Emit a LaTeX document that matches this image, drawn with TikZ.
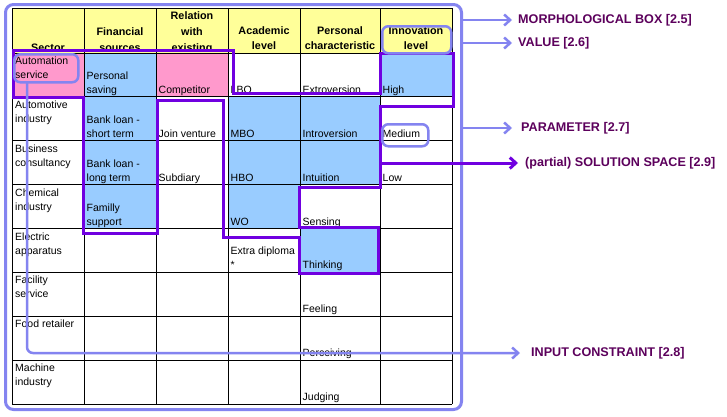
\documentclass[tikz,border=0pt]{standalone}
\usepackage{fontspec}
\setmainfont{Liberation Sans}
\usetikzlibrary{arrows.meta}
\definecolor{hdr}{HTML}{FFFF99}
\definecolor{pinkc}{HTML}{FF99CC}
\definecolor{bluec}{HTML}{99CCFF}
\definecolor{lav}{HTML}{8484F0}
\definecolor{purp}{HTML}{7000E0}
\definecolor{labc}{HTML}{5C005C}
\begin{document}
\begin{tikzpicture}[x=1pt,y=-1pt,
  cell/.style={anchor=base west,inner sep=0pt,font=\fontsize{10.5}{12}\selectfont},
  head/.style={anchor=base,inner sep=0pt,font=\fontsize{10.8}{13}\selectfont\bfseries},
  lab/.style={anchor=west,inner sep=0pt,text=labc,font=\fontsize{12.6}{14}\selectfont\bfseries},
  lavbox/.style={draw=lav,line width=2.5pt,rounded corners=6pt,inner sep=0pt},
  lavarrow/.style={draw=lav,line width=2.5pt,-{Straight Barb[length=6pt,width=11pt]}},
  purparrow/.style={draw=purp,line width=3pt,-{Straight Barb[length=6pt,width=11pt]}},
  solution/.style={draw=purp,line width=3pt,line join=miter}]
\useasboundingbox (0,0) rectangle (727,416);
\fill[white] (0,0) rectangle (727,416);
% fills
\fill[hdr] (12,8) rectangle (452,53);
\fill[pinkc] (12,53) rectangle (84,96.9);
\fill[pinkc] (156,53) rectangle (228,96.9);
\fill[bluec] (84,53) rectangle (156,228.5);
\fill[bluec] (228,96.9) rectangle (300,228.5);
\fill[bluec] (300,96.9) rectangle (380,184.6);
\fill[bluec] (300,228.5) rectangle (380,272.4);
\fill[bluec] (380,53) rectangle (452,96.9);
% grid
\foreach \xx in {12,84,156,228,300,380,452} \draw[black,line width=1pt] (\xx,8) -- (\xx,404);
\draw[black,line width=1pt] (12,8) -- (452,8);
\foreach \k in {0,...,8} \draw[black,line width=1pt] (12,53+43.875*\k) -- (452,53+43.875*\k);
% header
\begin{scope}
\clip (12,8) rectangle (228,49);
\node[head] (h1) at (48,51) {Sector};
\node[head] (h2b) at (120,51) {sources};
\node[head] (h3c) at (192,51) {existing};
\end{scope}
\node[head] (h2a) at (120,35) {Financial};
\node[head] (h3a) at (192,19.5) {Relation};
\node[head] (h3b) at (192,35) {with};
\node[head] (h4a) at (264,34.5) {Academic};
\node[head] (h4b) at (264,49) {level};
\node[head] (h5a) at (340,34.5) {Personal};
\node[head] (h5b) at (340,49) {characteristic};
\node[head] (h6a) at (416,34.5) {Innovation};
\node[head] (h6b) at (416,49) {level};
% sector column
\node[cell] (s1a) at (15,64.5) {Automation};
\node[cell] (s1b) at (15,78.5) {service};
\node[cell] (s2a) at (15,108.4) {Automotive};
\node[cell] (s2b) at (15,122.4) {industry};
\node[cell] (s3a) at (15,152.25) {Business};
\node[cell] (s3b) at (15,166.25) {consultancy};
\node[cell] (s4a) at (15,196.1) {Chemical};
\node[cell] (s4b) at (15,210.1) {industry};
\node[cell] (s5a) at (15,240) {Electric};
\node[cell] (s5b) at (15,254) {apparatus};
\node[cell] (s6a) at (15,283.9) {Facility};
\node[cell] (s6b) at (15,297.9) {service};
\node[cell] (s7a) at (15,327.75) {Food retailer};
\node[cell] (s8a) at (15,371.6) {Machine};
\node[cell] (s8b) at (15,385.6) {industry};
% financial
\node[cell] (f1a) at (86.5,79.4) {Personal};
\node[cell] (f1b) at (86.5,93.4) {saving};
\node[cell] (f2a) at (86.5,123.25) {Bank loan -};
\node[cell] (f2b) at (86.5,137.25) {short term};
\node[cell] (f3a) at (86.5,167.1) {Bank loan -};
\node[cell] (f3b) at (86.5,181.1) {long term};
\node[cell] (f4a) at (86.5,211) {Familly};
\node[cell] (f4b) at (86.5,225) {support};
% relation
\node[cell] (r1) at (158.5,93.4) {Competitor};
\node[cell] (r2) at (158.5,137.25) {Join venture};
\node[cell] (r3) at (158.5,181.1) {Subdiary};
% academic
\node[cell] (a1) at (230.5,93.4) {LBO};
\node[cell] (a2) at (230.5,137.25) {MBO};
\node[cell] (a3) at (230.5,181.1) {HBO};
\node[cell] (a4) at (230.5,225) {WO};
\node[cell] (a5a) at (230.5,254.9) {Extra diploma};
\node[cell] (a5b) at (230.5,268.9) {*};
% personal
\node[cell] (p1) at (302.5,93.4) {Extroversion};
\node[cell] (p2) at (302.5,137.25) {Introversion};
\node[cell] (p3) at (302.5,181.1) {Intuition};
\node[cell] (p4) at (302.5,225) {Sensing};
\node[cell] (p5) at (302.5,268.9) {Thinking};
\node[cell] (p6) at (302.5,312.75) {Feeling};
\node[cell] (p7) at (302.5,356.6) {Perceiving};
\node[cell] (p8) at (302.5,400.5) {Judging};
% innovation
\node[cell] (i1) at (382.5,93.4) {High};
\node[cell] (i2) at (382.5,137.25) {Medium};
\node[cell] (i3) at (382.5,181.1) {Low};
% solution space polygon
\draw[solution] (13,50) -- (233,50) -- (233,93) -- (380,93) -- (380,53) -- (453,53)
  -- (453,106) -- (380,106) -- (380,187) -- (299,187) -- (299,227) -- (378,227)
  -- (378,273) -- (299,273) -- (299,237) -- (223,237) -- (223,100) -- (157,100)
  -- (157,233) -- (83,233) -- (83,97) -- (13,97) -- cycle;
% lavender frames
\node[lavbox,line width=3pt,rounded corners=8pt,minimum width=456pt,minimum height=405pt,anchor=north west] (frame) at (4,3) {};
\node[lavbox,minimum width=69pt,minimum height=27pt,anchor=north west] (innobox) at (381,25) {};
\node[lavbox,minimum width=46pt,minimum height=22pt,anchor=north west] (medbox) at (381,123) {};
\node[lavbox,minimum width=64pt,minimum height=28pt,anchor=north west] (autobox) at (13,53) {};
% labels
\node[lab] (lmb) at (518,20) {MORPHOLOGICAL BOX [2.5]};
\node[lab] (lval) at (518,43) {VALUE [2.6]};
\node[lab] (lpar) at (521,128) {PARAMETER [2.7]};
\node[lab] (lsol) at (525,163) {(partial) SOLUTION SPACE [2.9]};
\node[lab] (linp) at (531,353) {INPUT CONSTRAINT [2.8]};
% connectors
\coordinate (c1) at (460,20);
\coordinate (c2) at (460,43);
\coordinate (c3) at (460,128);
\coordinate (c4) at (380,163);
\coordinate (c5) at (27,81);
\draw[lavarrow,shorten >=6pt] (c1) -- (lmb.west);
\draw[lavarrow,shorten >=6pt] (c2) -- (lval.west);
\draw[lavarrow,shorten >=9pt] (c3) -- (lpar.west);
\draw[purparrow,shorten >=7pt] (c4) -- (lsol.west);
\draw[lavarrow,rounded corners=6pt,shorten >=11pt] (c5) |- (linp.west);
\end{tikzpicture}
\end{document}
